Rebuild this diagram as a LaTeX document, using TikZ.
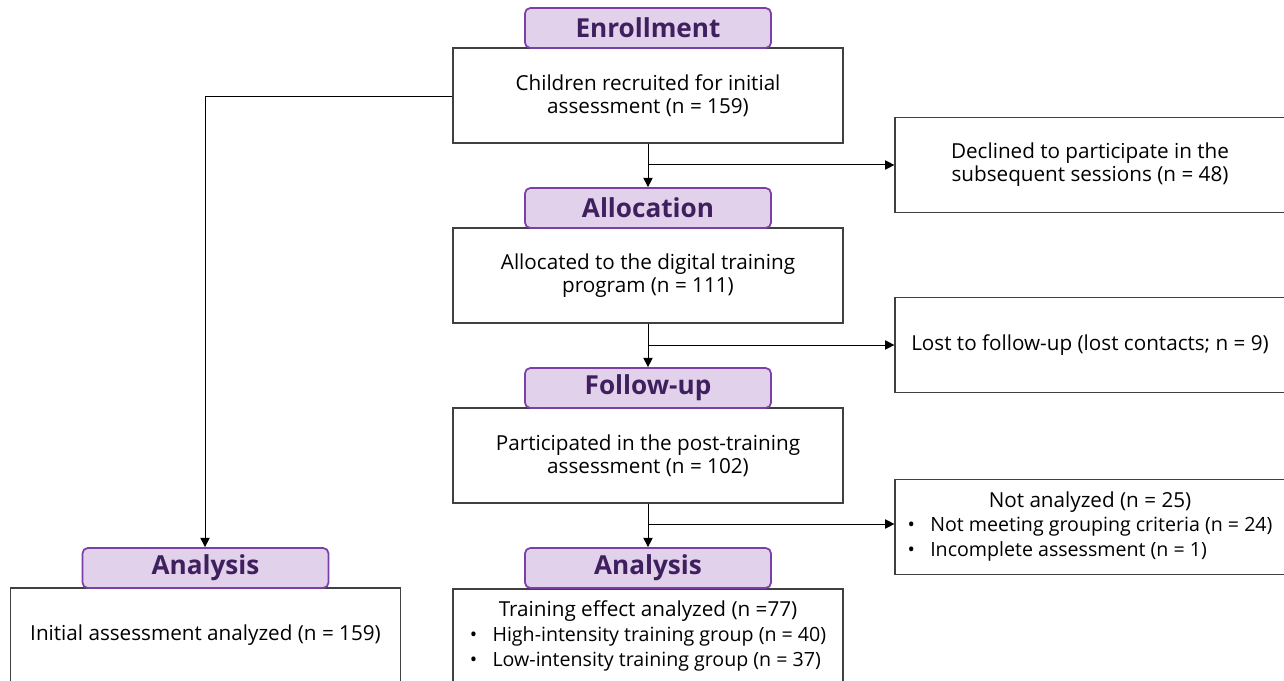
\documentclass[tikz,border=0pt]{standalone}
\usepackage{fontspec}
\setmainfont{Open Sans}
\usetikzlibrary{arrows.meta}
\definecolor{hdrfill}{HTML}{E1D1EB}
\definecolor{hdrline}{HTML}{7B3FA8}
\definecolor{hdrtext}{HTML}{3F1F5E}
\definecolor{boxline}{HTML}{404040}
\tikzset{
  hdr/.style={draw=hdrline, line width=1.3pt, fill=hdrfill, rounded corners=4pt,
    minimum width=184.5pt, minimum height=30pt, inner sep=0pt,
    text=hdrtext, font=\fontsize{19.6}{21}\selectfont\bfseries},
  txtbox/.style={draw=boxline, line width=0.9pt, fill=white,
    minimum width=292.5pt, minimum height=71.25pt, inner sep=0pt, align=center,
    font=\fontsize{15.5}{17.25}\selectfont},
  conn/.style={draw=black, line width=0.75pt},
  arr/.style={conn, -{Triangle[length=7pt,width=7pt]}}
}
\newcommand{\bl}{\textbullet}
\newcommand{\lst}{\fontsize{14.7}{17.25}\selectfont}
\begin{document}
\begin{tikzpicture}[x=0.75pt,y=-0.75pt]
\useasboundingbox (0,0) rectangle (1284,681);
\clip (0,0) rectangle (1284,681);
\fill[white] (0,0) rectangle (1284,681);

% main column boxes
\node[txtbox] (b1) at (648,95.5) {Children recruited for initial\\assessment (n = 159)};
\node[txtbox] (b2) at (648,275.5) {Allocated to the digital training\\program (n = 111)};
\node[txtbox] (b3) at (648,455.5) {Participated in the post-training\\assessment (n = 102)};
\node[txtbox] (b4) at (648,636.5) {\renewcommand{\arraystretch}{1.07}\begin{tabular}{@{}l@{\hspace{11.5pt}}l@{}}\multicolumn{2}{c}{Training effect analyzed (n =77)}\\ \lst\bl & \lst High-intensity training group (n = 40)\\ \lst\bl & \lst Low-intensity training group (n = 37)\end{tabular}};
\node[txtbox] (b5) at (205.5,635.5) {Initial assessment analyzed (n = 159)};

% right boxes
\node[txtbox] (r1) at (1090,165) {Declined to participate in the\\subsequent sessions (n = 48)};
\node[txtbox] (r2) at (1090,345) {Lost to follow-up (lost contacts; n = 9)};
\node[txtbox] (r3) at (1090,527) {\renewcommand{\arraystretch}{1.07}\begin{tabular}{@{}l@{\hspace{11.5pt}}l@{}}\multicolumn{2}{c}{Not analyzed (n = 25)}\\ \lst\bl & \lst Not meeting grouping criteria (n = 24)\\ \lst\bl & \lst Incomplete assessment (n = 1)\end{tabular}};

% headers
\node[hdr] (h1) at (648,28) {Enrollment};
\node[hdr] (h2) at (648,208) {Allocation};
\node[hdr] (h3) at (648,388) {Follow-up};
\node[hdr] (h4) at (648,568) {Analysis};
\node[hdr] (h5) at (205.5,568) {Analysis};

% connectors
\coordinate (j1) at (648,165);
\coordinate (j2) at (648,345);
\coordinate (j3) at (648,524);
\coordinate (lc) at (205,97);
\draw[arr] (b1.south) -- (h2.north);
\draw[arr] (j1) -- (r1.west);
\draw[arr] (b2.south) -- (h3.north);
\draw[arr] (j2) -- (r2.west);
\draw[arr] (b3.south) -- (h4.north);
\draw[arr] (j3) -- (j3 -| r3.west);
\draw[arr] (b1.west |- lc) -- (lc) -- (lc |- h5.north);
\end{tikzpicture}
\end{document}
